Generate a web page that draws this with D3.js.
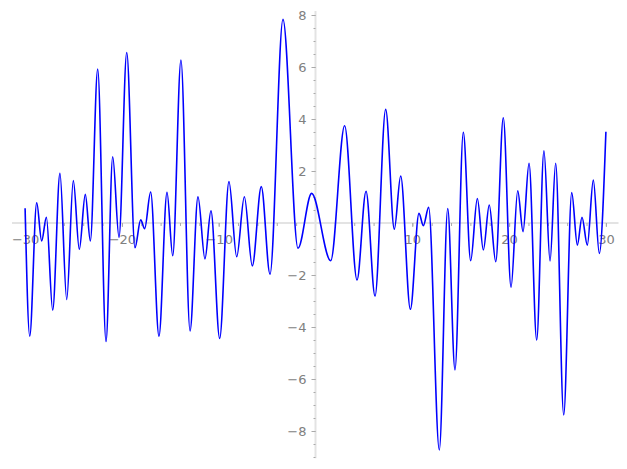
<!DOCTYPE html>
<html lang="en">
  <head>
    <meta charset="UTF-8" />
    <title>Plot</title>
    <script src="https://cdn.jsdelivr.net/npm/d3@7"></script>
    <style>
      body { margin: 0; background: #fff; }
      text { font-family: "DejaVu Sans", sans-serif; }
    </style>
  </head>
  <body>
    <svg id="container" width="627" height="469"></svg>
    <script>
      // turning points of the curve
      const xVals = [-30, -29.52, -28.8, -28.29, -27.8, -27.15, -26.4, -25.7, -25.02, -24.4,
        -23.78, -23.26, -22.5, -21.64, -20.95, -20.3, -19.5, -18.65, -18.06, -17.65,
        -17.03, -16.17, -15.34, -14.75, -13.9, -12.96, -12.14, -11.42, -10.8, -9.9,
        -8.94, -8.14, -7.35, -6.53, -5.6, -4.7, -3.36, -1.81, -0.4, 1.57,
        3.01, 4.29, 5.22, 6.15, 7.25, 8.14, 8.8, 9.8, 10.69, 11.14,
        11.69, 12.79, 13.66, 14.41, 15.27, 16.03, 16.72, 17.34, 17.95, 18.62,
        19.4, 20.2, 20.89, 21.44, 22.06, 22.85, 23.6, 24.23, 24.81, 25.64,
        26.47, 27.05, 27.53, 28.08, 28.7, 29.32, 30];
      const yVals = [0.57, -4.35, 0.78, -0.69, 0.22, -3.35, 1.91, -2.94, 1.63, -1.01,
        1.1, -0.69, 5.92, -4.56, 2.55, -0.55, 6.56, -0.95, 0.12, -0.22,
        1.19, -4.35, 1.18, -1.26, 6.27, -4.15, 1.01, -1.38, 0.47, -4.44,
        1.59, -1.3, 1.01, -1.65, 1.4, -1.97, 7.83, -0.97, 1.14, -1.45,
        3.74, -2.19, 1.22, -2.81, 4.37, -0.24, 1.81, -3.32, 0.37, -0.1,
        0.6, -8.73, 0.56, -5.65, 3.49, -1.45, 0.94, -1.04, 0.69, -1.49,
        4.05, -2.47, 1.24, -0.33, 2.3, -4.5, 2.78, -1.46, 2.3, -7.38,
        1.17, -0.85, 0.22, -0.85, 1.65, -1.17, 3.51];

      const xMajor = [-30, -20, -10, 10, 20, 30];
      const yMajor = [-8, -6, -4, -2, 2, 4, 6, 8];

      let svg = d3.select("#container");

      let x = d3.scaleLinear().domain([-30, 30]).range([25.1, 605.9]);
      let y = d3.scaleLinear().domain([-8, 8]).range([431, 15]);

      let fmt = (d) => d3.format("d")(d).replace("-", "\u2212");

      // axis lines through the origin
      svg.append("line")
        .attr("x1", x(-31.35)).attr("x2", x(31.3))
        .attr("y1", y(0)).attr("y2", y(0))
        .attr("stroke", "#e3e3e3").attr("stroke-width", 2);
      svg.append("line")
        .attr("x1", x(0)).attr("x2", x(0))
        .attr("y1", y(8.15)).attr("y2", y(-9.05))
        .attr("stroke", "#e3e3e3").attr("stroke-width", 2);

      // minor ticks
      let xMinor = d3.range(-30, 31, 2).filter((d) => d !== 0);
      let yMinor = d3.range(-9, 8.01, 0.5).filter((d) => d !== 0);

      let gxMin = svg.append("g")
        .attr("transform", `translate(0,${y(0)})`)
        .call(d3.axisBottom(x).tickValues(xMinor).tickSize(3).tickFormat(""));
      let gyMin = svg.append("g")
        .attr("transform", `translate(${x(0)},0)`)
        .call(d3.axisLeft(y).tickValues(yMinor).tickSize(2).tickFormat(""));

      // major ticks with labels
      let gx = svg.append("g")
        .attr("transform", `translate(0,${y(0)})`)
        .call(d3.axisBottom(x).tickValues(xMajor).tickSize(4).tickPadding(8).tickFormat(fmt));
      let gy = svg.append("g")
        .attr("transform", `translate(${x(0)},0)`)
        .call(d3.axisLeft(y).tickValues(yMajor).tickSize(4).tickPadding(5).tickFormat(fmt));

      for (const g of [gxMin, gyMin, gx, gy]) {
        g.select(".domain").remove();
        g.selectAll("line").attr("stroke", "#aaaaaa");
        g.selectAll("text")
          .attr("fill", "#808080")
          .style("font-size", "13px")
          .style("font-family", "'DejaVu Sans', sans-serif");
      }

      let pts = xVals.map((d, i) => [d, yVals[i]]);
      let line = d3.line()
        .x((d) => x(d[0]))
        .y((d) => y(d[1]))
        .curve(d3.curveMonotoneX);

      svg.append("path")
        .datum(pts)
        .attr("d", line)
        .attr("fill", "none")
        .attr("stroke", "#0000ff")
        .attr("stroke-width", 1.6);
    </script>
  </body>
</html>
